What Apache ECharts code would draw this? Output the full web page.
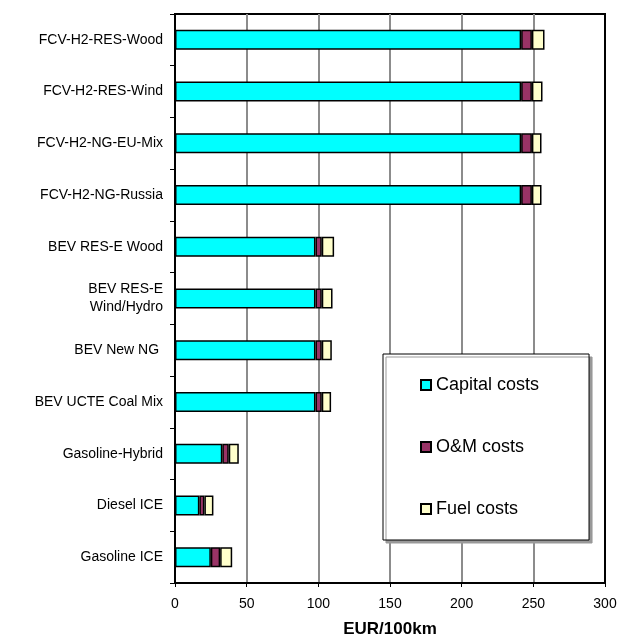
<!DOCTYPE html>
<html>
<head>
<meta charset="utf-8">
<script src="https://cdn.jsdelivr.net/npm/echarts@6/dist/echarts.min.js"></script>
<style>
  html, body { margin: 0; padding: 0; background: #fff; }
  #chart { width: 620px; height: 643px; }
</style>
</head>
<body>
<div id="chart"></div>
<script>
// vehicle pathways, top to bottom
var categories = [
  "FCV-H2-RES-Wood",
  "FCV-H2-RES-Wind",
  "FCV-H2-NG-EU-Mix",
  "FCV-H2-NG-Russia",
  "BEV RES-E Wood",
  "BEV RES-E\nWind/Hydro",
  "BEV New NG ",
  "BEV UCTE Coal Mix",
  "Gasoline-Hybrid",
  "Diesel ICE",
  "Gasoline ICE"
];
// EUR/100km
var capitalCosts = [241.5, 241.5, 241.5, 241.5, 98, 98, 98, 98, 33, 17, 25];
var omCosts = [7.5, 7.5, 7.5, 7.5, 4.4, 4.4, 4.4, 4.4, 4.5, 3.5, 6.5];
var fuelCosts = [8.8, 7.4, 6.7, 6.7, 8.6, 7.5, 7, 6.5, 7, 6.3, 8.4];
var xTicks = [0, 50, 100, 150, 200, 250, 300];

var font = "Arial, 'Liberation Sans', sans-serif";

function barSeries(name, data, color) {
  return {
    name: name,
    type: "bar",
    stack: "total",
    data: data,
    barWidth: 20,
    itemStyle: { color: color, borderColor: "#000", borderWidth: 1.5 }
  };
}

var myChart = echarts.init(document.getElementById("chart"));
myChart.setOption({
  animation: false,
  backgroundColor: "#fff",
  textStyle: { fontFamily: font },
  grid: {
    left: 175, right: 15, top: 14, bottom: 58,
    show: true, borderColor: "#000", borderWidth: 2
  },
  legend: {
    orient: "vertical",
    left: 383, top: 354,
    padding: [22, 50, 22, 37],
    itemGap: 44,
    itemWidth: 10, itemHeight: 10,
    icon: "rect",
    backgroundColor: "#fff",
    borderColor: "#000",
    borderWidth: 1,
    shadowColor: "#999",
    shadowBlur: 0,
    shadowOffsetX: 3,
    shadowOffsetY: 3,
    textStyle: { fontSize: 18, color: "#000", fontFamily: font }
  },
  xAxis: {
    type: "value",
    min: xTicks[0],
    max: xTicks[xTicks.length - 1],
    interval: xTicks[1] - xTicks[0],
    name: "EUR/100km",
    nameLocation: "middle",
    nameGap: 38,
    nameTextStyle: { fontSize: 17, fontWeight: "bold", color: "#000", fontFamily: font },
    axisLine: { show: true, lineStyle: { color: "#000", width: 2 } },
    axisTick: { show: true, length: 4, lineStyle: { color: "#000" } },
    axisLabel: { fontSize: 14, color: "#000", margin: 14 },
    splitLine: {
      show: true,
      showMinLine: false,
      showMaxLine: false,
      lineStyle: { color: "#8c8c8c", width: 2 }
    }
  },
  yAxis: {
    type: "category",
    inverse: true,
    data: categories,
    axisLine: { show: true, lineStyle: { color: "#000", width: 2 } },
    axisTick: { show: true, length: 5, interval: 0, lineStyle: { color: "#000" } },
    axisLabel: { fontSize: 14, color: "#000", margin: 12, lineHeight: 18, interval: 0 }
  },
  series: [
    barSeries("Capital costs", capitalCosts, "#00FFFF"),
    barSeries("O&M costs", omCosts, "#993366"),
    barSeries("Fuel costs", fuelCosts, "#FFFFCC")
  ]
});
</script>
</body>
</html>
